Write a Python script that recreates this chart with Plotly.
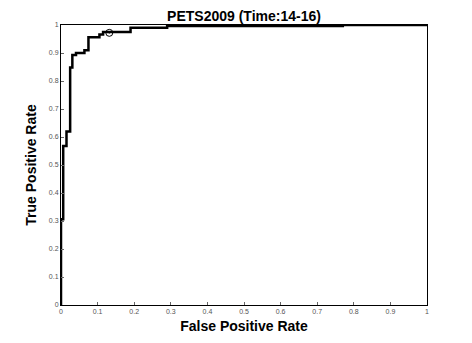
import plotly.graph_objects as go

fpr = [0.0, 0.0, 0.006, 0.015, 0.025, 0.031, 0.041, 0.064, 0.075, 0.105, 0.115, 0.19, 0.29, 0.77, 1.0]
tpr = [0.0, 0.306, 0.568, 0.62, 0.848, 0.893, 0.90, 0.91, 0.956, 0.966, 0.975, 0.99, 0.996, 1.0, 1.0]
op_fpr = [0.132]
op_tpr = [0.972]
tick_vals = [0, 0.1, 0.2, 0.3, 0.4, 0.5, 0.6, 0.7, 0.8, 0.9, 1]
tick_text = ["0", "0.1", "0.2", "0.3", "0.4", "0.5", "0.6", "0.7", "0.8", "0.9", "1"]

fig = go.Figure()
fig.add_trace(go.Scatter(x=fpr, y=tpr, mode="lines", line=dict(color="black", width=2.5, shape="hv"),
                         showlegend=False, hoverinfo="skip"))
fig.add_trace(go.Scatter(x=op_fpr, y=op_tpr, mode="markers",
                         marker=dict(symbol="circle-dot", size=7, color="rgba(0,0,0,0)",
                                     line=dict(color="black", width=1)),
                         showlegend=False))

axis_common = dict(range=[0, 1], tickvals=tick_vals, ticktext=tick_text, ticks="inside", ticklen=3,
                   tickcolor="#666", showgrid=False, zeroline=False, showline=True, linecolor="black",
                   linewidth=1, mirror=True, tickfont=dict(family="Liberation Sans, Arial", size=7, color="#555"))

fig.update_layout(
    width=472, height=343,
    margin=dict(l=53, r=53, t=17, b=46),
    paper_bgcolor="white", plot_bgcolor="white",
    title=dict(text="<b>PETS2009 (Time:14-16)</b>", x=236 / 472, xanchor="center",
               y=1 - 8 / 343, yanchor="middle",
               font=dict(family="Liberation Sans, Arial", size=14, color="black")),
    xaxis=dict(axis_common, title=dict(text="<b>False Positive Rate</b>", standoff=6,
                                       font=dict(family="Liberation Sans, Arial", size=14, color="black"))),
    yaxis=dict(axis_common, title=dict(text="<b>True Positive Rate</b>", standoff=8,
                                       font=dict(family="Liberation Sans, Arial", size=14, color="black"))),
)

fig.write_html("out.html")
